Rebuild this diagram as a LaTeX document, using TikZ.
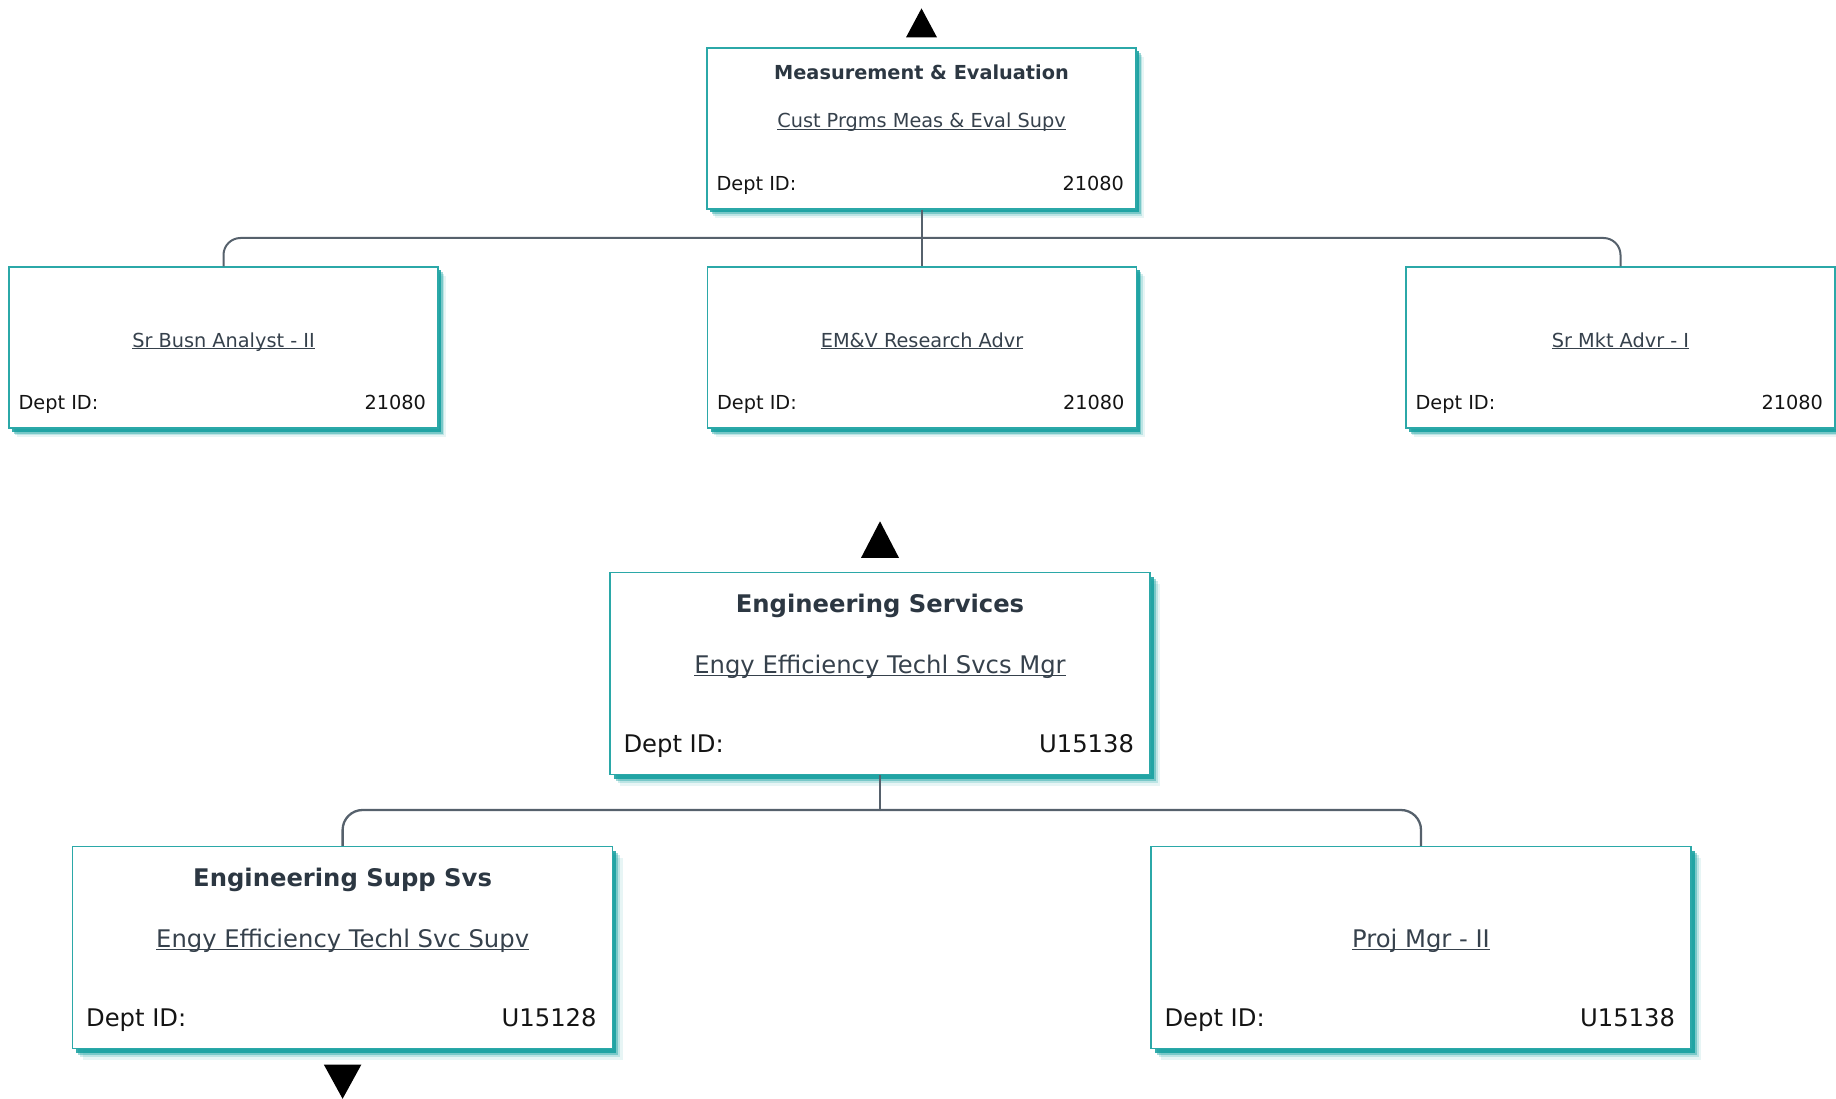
\documentclass[tikz,border=0pt]{standalone}
\usepackage{fontspec}
\setmainfont{DejaVu Sans}
\usetikzlibrary{calc,shadows}
\definecolor{cardline}{HTML}{2BA8A8}
\definecolor{shadowc}{HTML}{129E9E}
\definecolor{titlec}{HTML}{2C3742}
\definecolor{subc}{HTML}{36414C}
\definecolor{deptc}{HTML}{141414}
\definecolor{connc}{HTML}{56616C}
\newcommand\ulin[1]{\setbox0=\hbox{#1}\rlap{\rule[-0.1em]{\wd0}{0.065em}}\box0}
\tikzset{
  cardS/.style={draw=cardline, line width=1.2pt, fill=white, inner sep=0pt,
    minimum width=429pt, minimum height=161pt,
    general shadow={fill=shadowc, shadow xshift=8pt, shadow yshift=-9pt, opacity=0.1},
    general shadow={fill=shadowc, shadow xshift=6pt, shadow yshift=-7pt, opacity=0.2},
    general shadow={fill=shadowc, shadow xshift=4.5pt, shadow yshift=-5.5pt, opacity=0.4},
    general shadow={fill=shadowc, shadow xshift=3pt, shadow yshift=-3.5pt, opacity=0.85}},
  cardL/.style={draw=cardline, line width=1.4pt, fill=white, inner sep=0pt,
    minimum width=540pt, minimum height=202pt,
    general shadow={fill=shadowc, shadow xshift=10pt, shadow yshift=-11pt, opacity=0.1},
    general shadow={fill=shadowc, shadow xshift=7.5pt, shadow yshift=-8.5pt, opacity=0.2},
    general shadow={fill=shadowc, shadow xshift=5.5pt, shadow yshift=-6.5pt, opacity=0.4},
    general shadow={fill=shadowc, shadow xshift=3.5pt, shadow yshift=-4.5pt, opacity=0.85}},
  fS/.style={font=\fontsize{19.3}{23}\selectfont},
  fL/.style={font=\fontsize{24.26}{29}\selectfont},
  ttl/.style={inner sep=0pt, anchor=base, text=titlec},
  sub/.style={inner sep=0pt, anchor=base, text=subc},
  dl/.style={inner sep=0pt, anchor=base west, text=deptc},
  dr/.style={inner sep=0pt, anchor=base east, text=deptc},
  conn/.style={draw=connc, line width=2pt},
  connL/.style={draw=connc, line width=2.3pt},
  tri/.style={fill=black}
}
\begin{document}
\begin{tikzpicture}[x=1pt,y=-1pt]
\useasboundingbox (0,0) rectangle (1836,1099);

% ---------- upper section ----------
\node[cardS] (me) at (921.5,128.5) {};
\node[cardS] (c1) at (223.5,347.5) {};
\node[cardS] (c2) at (922,347.5) {};
\node[cardS] (c3) at (1620.5,347.5) {};

\node[ttl,fS] (meT) at ($(me.north)+(0,32)$) {\bfseries Measurement \& Evaluation};
\node[sub,fS] (meS) at ($(me.north)+(0,80.5)$) {\ulin{Cust Prgms Meas \& Eval Supv}};
\node[dl,fS] (meL) at ($(me.north west)+(10,143)$) {Dept ID:};
\node[dr,fS] (meR) at ($(me.north east)+(-12.5,143)$) {21080};

\node[sub,fS] (c1S) at ($(c1.north)+(0,81)$) {\ulin{Sr Busn Analyst - II}};
\node[dl,fS] (c1L) at ($(c1.north west)+(10,143.5)$) {Dept ID:};
\node[dr,fS] (c1R) at ($(c1.north east)+(-12.5,143.5)$) {21080};

\node[sub,fS] (c2S) at ($(c2.north)+(0,81)$) {\ulin{EM\&V Research Advr}};
\node[dl,fS] (c2L) at ($(c2.north west)+(10,143.5)$) {Dept ID:};
\node[dr,fS] (c2R) at ($(c2.north east)+(-12.5,143.5)$) {21080};

\node[sub,fS] (c3S) at ($(c3.north)+(0,81)$) {\ulin{Sr Mkt Advr - I}};
\node[dl,fS] (c3L) at ($(c3.north west)+(10,143.5)$) {Dept ID:};
\node[dr,fS] (c3R) at ($(c3.north east)+(-12.5,143.5)$) {21080};

\fill[tri] ($(me.north)+(-15.5,-10)$) -- ($(me.north)+(15.5,-10)$) -- ($(me.north)+(0,-39)$) -- cycle;

\coordinate (b1) at (me.south |- 0,238);
\draw[conn] (me.south) -- (me.south |- c2.north);
\draw[conn, rounded corners=17pt] (b1) -| (c1.north);
\draw[conn, rounded corners=17pt] (b1) -| (c3.north);

% ---------- lower section ----------
\node[cardL] (es) at (880,673.6) {};
\node[cardL] (ess) at (342.6,947.6) {};
\node[cardL] (pm) at (1421,947.6) {};

\node[ttl,fL] (esT) at ($(es.north)+(0,40.2)$) {\bfseries Engineering Services};
\node[sub,fL] (esS) at ($(es.north)+(0,101.8)$) {\ulin{Engy Efficiency Techl Svcs Mgr}};
\node[dl,fL] (esL) at ($(es.north west)+(14,180.4)$) {Dept ID:};
\node[dr,fL] (esR) at ($(es.north east)+(-16.5,180.4)$) {U15138};

\node[ttl,fL] (essT) at ($(ess.north)+(0,40.2)$) {\bfseries Engineering Supp Svs};
\node[sub,fL] (essS) at ($(ess.north)+(0,101.8)$) {\ulin{Engy Efficiency Techl Svc Supv}};
\node[dl,fL] (essL) at ($(ess.north west)+(14,180.4)$) {Dept ID:};
\node[dr,fL] (essR) at ($(ess.north east)+(-16.5,180.4)$) {U15128};

\node[sub,fL] (pmS) at ($(pm.north)+(0,101.8)$) {\ulin{Proj Mgr - II}};
\node[dl,fL] (pmL) at ($(pm.north west)+(14,180.4)$) {Dept ID:};
\node[dr,fL] (pmR) at ($(pm.north east)+(-16.5,180.4)$) {U15138};

\fill[tri] ($(es.north)+(-19,-14)$) -- ($(es.north)+(19,-14)$) -- ($(es.north)+(0,-50.6)$) -- cycle;
\fill[tri] ($(ess.south)+(-18.7,15.4)$) -- ($(ess.south)+(18.7,15.4)$) -- ($(ess.south)+(0,49.5)$) -- cycle;

\coordinate (b2) at (es.south |- 0,810);
\draw[connL] (es.south) -- (b2);
\draw[connL, rounded corners=20pt] (b2) -| (ess.north);
\draw[connL, rounded corners=20pt] (b2) -| (pm.north);
\end{tikzpicture}
\end{document}
